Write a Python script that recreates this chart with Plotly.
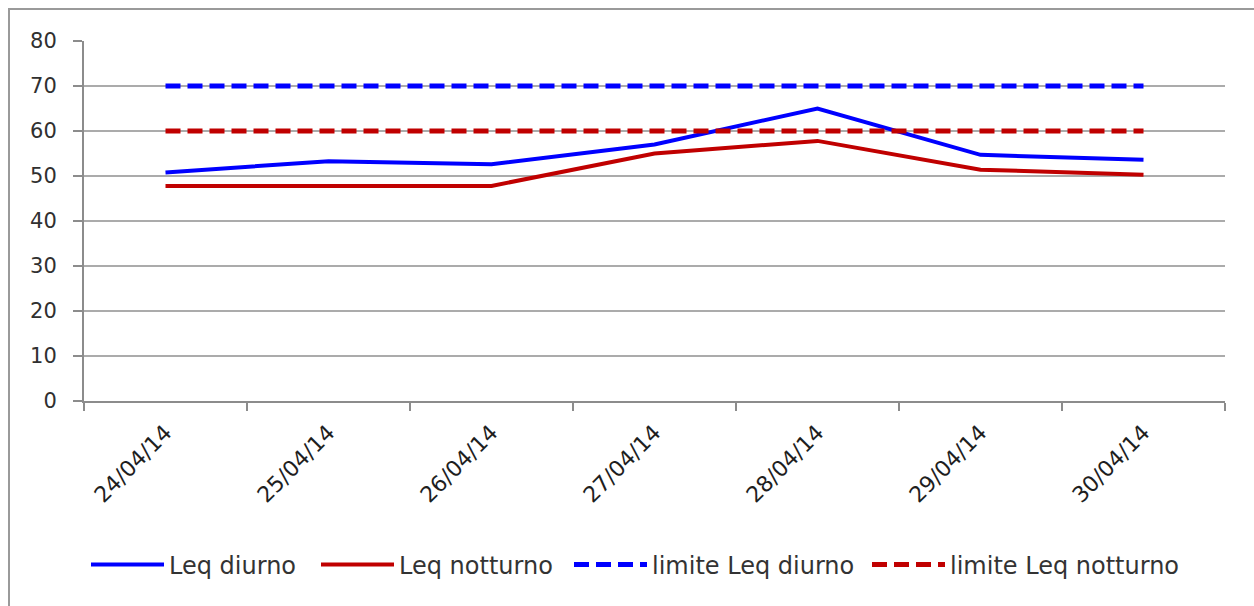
import plotly.graph_objects as go

dates = ["24/04/14", "25/04/14", "26/04/14", "27/04/14", "28/04/14", "29/04/14", "30/04/14"]
leq_diurno = [50.8, 53.3, 52.6, 57.0, 65.0, 54.7, 53.6]
leq_notturno = [47.8, 47.7, 47.8, 55.0, 57.8, 51.4, 50.3]
limite_diurno = [70, 70, 70, 70, 70, 70, 70]
limite_notturno = [60, 60, 60, 60, 60, 60, 60]
y_ticks = [0, 10, 20, 30, 40, 50, 60, 70, 80]

BLUE = "#0000FF"
RED = "#C00000"
FONT = "DejaVu Sans"
TXT = "#333333"

fig = go.Figure()
fig.add_trace(go.Scatter(x=dates, y=leq_diurno, mode="lines", name="Leq diurno",
                         line=dict(color=BLUE, width=4), legend="legend"))
fig.add_trace(go.Scatter(x=dates, y=leq_notturno, mode="lines", name="Leq notturno",
                         line=dict(color=RED, width=4), legend="legend2"))
fig.add_trace(go.Scatter(x=dates, y=limite_diurno, mode="lines", name="limite Leq diurno",
                         line=dict(color=BLUE, width=5, dash="15px,7px"), legend="legend3"))
fig.add_trace(go.Scatter(x=dates, y=limite_notturno, mode="lines", name="limite Leq notturno",
                         line=dict(color=RED, width=5, dash="15px,7px"), legend="legend4"))


def leg(xpix):
    return dict(orientation="h", xref="container", yref="container",
                x=xpix / 1254, xanchor="left", y=0.068, yanchor="middle",
                itemwidth=73, font=dict(family=FONT, size=24, color=TXT),
                bgcolor="rgba(0,0,0,0)")


fig.update_layout(
    width=1254, height=606,
    margin=dict(l=84, r=29, t=41, b=205),
    paper_bgcolor="white", plot_bgcolor="white",
    font=dict(family=FONT, size=22, color=TXT),
    showlegend=True,
    legend=leg(86), legend2=leg(316), legend3=leg(569), legend4=leg(867),
    shapes=[dict(type="rect", xref="paper", yref="paper",
                 x0=(9 - 84) / 1141, x1=(1275 - 84) / 1141,
                 y0=(401 - 620) / 360, y1=(401 - 9) / 360,
                 line=dict(color="#9a9a9a", width=2), layer="below")],
)

fig.update_xaxes(type="category", categoryorder="array", categoryarray=dates,
                 range=[-0.5, 6.5], tickson="boundaries", ticks="outside",
                 ticklen=8, tickwidth=2, tickcolor="#8c8c8c",
                 showline=True, linecolor="#8c8c8c", linewidth=2,
                 showgrid=False, tickangle=-45, ticklabelstandoff=8,
                 tickfont=dict(family=FONT, size=22, color="#1e1e1e"))
fig.update_yaxes(range=[0, 80], tickvals=y_ticks, ticks="outside", ticklen=9,
                 tickwidth=2, tickcolor="#8c8c8c",
                 showline=True, linecolor="#8c8c8c", linewidth=2,
                 showgrid=True, gridcolor="#ababab", gridwidth=2, zeroline=False,
                 ticklabelstandoff=12,
                 tickfont=dict(family=FONT, size=21, color="#303030"))

fig.write_html("out.html")
